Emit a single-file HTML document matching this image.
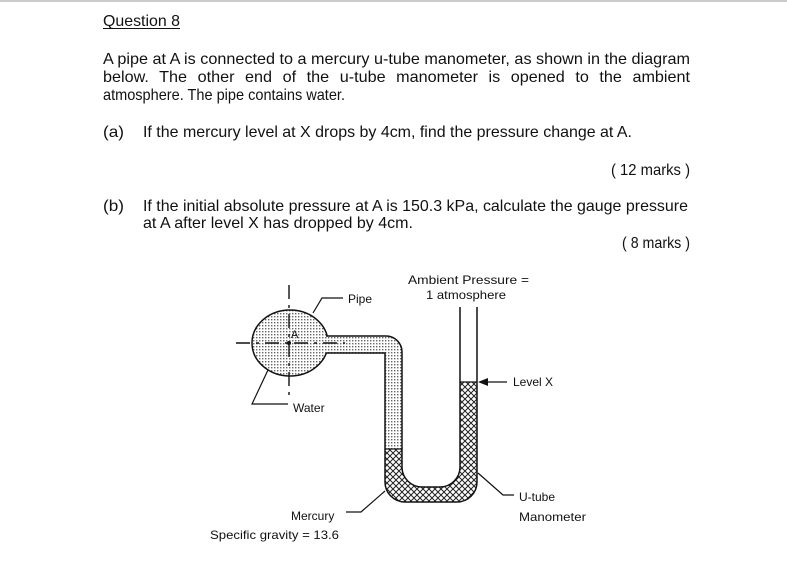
<!DOCTYPE html>
<html><head><meta charset="utf-8"><style>
html,body{margin:0;padding:0;background:#fff}
svg{display:block}
text{font-family:"Liberation Sans",Arial,sans-serif;fill:#111}
</style></head><body>
<svg width="787" height="573" viewBox="0 0 787 573" xmlns="http://www.w3.org/2000/svg">
<defs>
<pattern id="dots" width="3" height="3" patternUnits="userSpaceOnUse">
<rect width="3" height="3" fill="#fff"/><rect x="1" y="1" width="1.4" height="1.4" fill="#666"/>
</pattern>
<pattern id="hatch" width="6" height="6" patternUnits="userSpaceOnUse">
<rect width="6" height="6" fill="#fff"/>
<path d="M0,0 L6,6 M6,0 L0,6" stroke="#222" stroke-width="1"/>
</pattern>
<clipPath id="tube"><path d="M318,336 H386 A16,16 0 0 1 402,352 V467 A20,20 0 0 0 422,487 H440 A20,20 0 0 0 460,467 V307 H477 V482 A20,20 0 0 1 457,502 H405 A20,20 0 0 1 385,482 V353 H318 Z"/></clipPath>
</defs>
<rect x="0" y="0" width="787" height="2" fill="#ccc"/>

<g font-size="16">
<text x="103" y="26" textLength="77" lengthAdjust="spacingAndGlyphs">Question 8</text>
<rect x="103" y="28" width="77" height="1" fill="#111"/>
<text x="103" y="64" textLength="587" lengthAdjust="spacingAndGlyphs">A pipe at A is connected to a mercury u-tube manometer, as shown in the diagram</text>
<text x="103" y="82" textLength="587" lengthAdjust="spacingAndGlyphs" word-spacing="6">below. The other end of the u-tube manometer is opened to the ambient</text>
<text x="103" y="100" textLength="242" lengthAdjust="spacingAndGlyphs">atmosphere. The pipe contains water.</text>
<text x="103" y="137" textLength="21" lengthAdjust="spacingAndGlyphs">(a)</text>
<text x="143" y="137" textLength="489" lengthAdjust="spacingAndGlyphs">If the mercury level at X drops by 4cm, find the pressure change at A.</text>
<text x="611" y="175" textLength="79" lengthAdjust="spacingAndGlyphs">( 12 marks )</text>
<text x="103" y="211" textLength="21" lengthAdjust="spacingAndGlyphs">(b)</text>
<text x="143" y="211" textLength="545" lengthAdjust="spacingAndGlyphs">If the initial absolute pressure at A is 150.3 kPa, calculate the gauge pressure</text>
<text x="143" y="228" textLength="270" lengthAdjust="spacingAndGlyphs">at A after level X has dropped by 4cm.</text>
<text x="622" y="248" textLength="68" lengthAdjust="spacingAndGlyphs">( 8 marks )</text>
</g>

<ellipse cx="290" cy="343" rx="38" ry="33" fill="url(#dots)" stroke="#111" stroke-width="1.5"/>
<g clip-path="url(#tube)">
<rect x="318" y="300" width="112" height="149" fill="url(#dots)"/>
<rect x="380" y="449" width="50" height="60" fill="url(#hatch)"/>
<rect x="430" y="382" width="50" height="130" fill="url(#hatch)"/>
</g>
<path d="M477,307 V482 A20,20 0 0 1 457,502 H405 A20,20 0 0 1 385,482 V353 H326 M326,336 H386 A16,16 0 0 1 402,352 V467 A20,20 0 0 0 422,487 H440 A20,20 0 0 0 460,467 V307" fill="none" stroke="#111" stroke-width="1.5"/>
<line x1="385" y1="449" x2="402" y2="449" stroke="#111" stroke-width="1.2"/>
<line x1="460" y1="382" x2="477" y2="382" stroke="#111" stroke-width="1.2"/>

<line x1="289" y1="285" x2="289" y2="396" stroke="#111" stroke-width="1.4" stroke-dasharray="14,6,3,6"/>
<line x1="236" y1="343" x2="345" y2="343" stroke="#111" stroke-width="1.4" stroke-dasharray="14,6,3,6"/>
<circle cx="289" cy="343" r="2" fill="#111"/>
<text x="291" y="338" font-size="11">A</text>

<g font-size="12">
<text x="408" y="284" textLength="121" lengthAdjust="spacingAndGlyphs">Ambient Pressure =</text>
<text x="426" y="299" textLength="80" lengthAdjust="spacingAndGlyphs">1 atmosphere</text>
<text x="348" y="303">Pipe</text>
<text x="513" y="386">Level X</text>
<text x="293" y="412">Water</text>
<text x="291" y="520">Mercury</text>
<text x="210" y="539" textLength="129" lengthAdjust="spacingAndGlyphs">Specific gravity = 13.6</text>
<text x="519" y="501">U-tube</text>
<text x="519" y="521" textLength="67" lengthAdjust="spacingAndGlyphs">Manometer</text>
</g>
<polyline points="313,313 322,298 343,298" fill="none" stroke="#111" stroke-width="1.2"/>
<line x1="480" y1="382" x2="507" y2="382" stroke="#111" stroke-width="1.2"/>
<polygon points="478,382 488,378 488,386" fill="#111"/>
<polyline points="268,370 252,404 288,404" fill="none" stroke="#111" stroke-width="1.2"/>
<polyline points="385,491 361,512 346,512" fill="none" stroke="#111" stroke-width="1.2"/>
<polyline points="478,473 503,495 514,495" fill="none" stroke="#111" stroke-width="1.2"/>
</svg>
</body></html>
